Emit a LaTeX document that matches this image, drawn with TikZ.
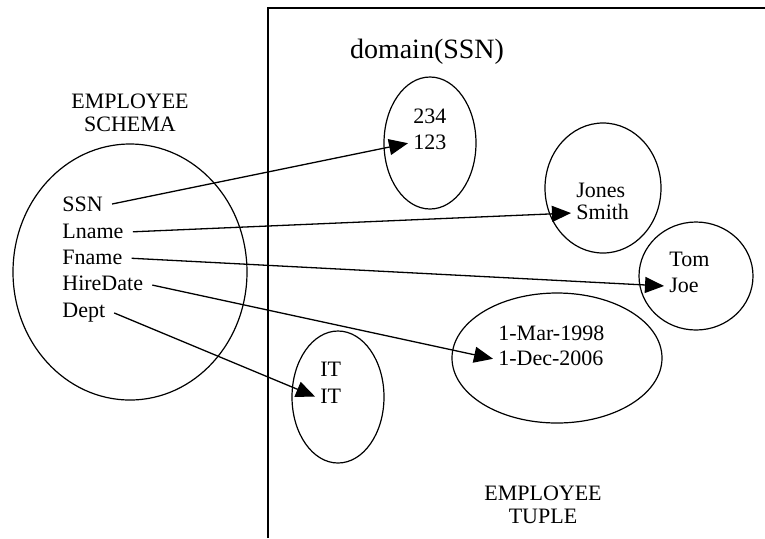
\documentclass[tikz,border=0pt]{standalone}
\usepackage{fontspec}
\setmainfont{Liberation Serif}
\usetikzlibrary{arrows.meta}

\begin{document}
\begin{tikzpicture}[x=0.5pt,y=0.5pt,every node/.style={font=\fontsize{11}{11.5}\selectfont},
  attr/.style={anchor=west,inner sep=2pt,text height=7pt,text depth=0.5pt},
  maps/.style={-{Triangle[length=9.5pt,width=8pt]},line width=0.65pt,shorten <=2.5pt,shorten >=0.5pt},
  set/.style={line width=0.6pt}]
\useasboundingbox (0,0) rectangle (765,-538);
\draw[line width=0.9pt] (268,-538) -- (268,-8) -- (765,-8);
\node[align=center] (schema) at (130,-113) {EMPLOYEE\\SCHEMA};
\node[font=\fontsize{14}{16}\selectfont] (domssn) at (427,-52) {domain(SSN)};
\node[align=center] (tuple) at (543,-505) {EMPLOYEE\\TUPLE};
\draw[set] (130,-272) ellipse [x radius=58.5pt,y radius=64pt];
\draw[set] (430,-143) ellipse [x radius=23pt,y radius=33pt];
\draw[set] (603,-188) ellipse [x radius=29pt,y radius=32.5pt];
\draw[set] (696,-276) ellipse [x radius=28.5pt,y radius=27pt];
\draw[set] (557,-358) ellipse [x radius=52.5pt,y radius=32.5pt];
\draw[set] (338,-397) ellipse [x radius=23pt,y radius=33pt];
\node[attr] (ssn) at (58,-205) {SSN};
\node[attr] (lname) at (58,-232) {Lname};
\node[attr] (fname) at (58,-258) {Fname};
\node[attr] (hire) at (58,-284) {HireDate};
\node[attr] (dept) at (58,-311) {Dept};
\node[attr] (ssnA) at (409,-117) {234};
\node[attr] (ssnB) at (409,-143) {123};
\node[attr] (lnA) at (572,-191) {Jones};
\node[attr] (lnB) at (572,-213) {Smith};
\node[attr] (fnA) at (665,-260) {Tom};
\node[attr] (fnB) at (665,-286) {Joe};
\node[attr] (hdA) at (494,-334) {1-Mar-1998};
\node[attr] (hdB) at (494,-359) {1-Dec-2006};
\node[attr] (dpA) at (316,-370) {IT};
\node[attr] (dpB) at (316,-397) {IT};
\draw[maps] (ssn.east) -- (ssnB.west);
\draw[maps] (lname.east) -- (lnB.west);
\draw[maps] (fname.east) -- (fnB.west);
\draw[maps] (hire.east) -- (hdB.west);
\draw[maps] (dept.east) -- (dpB.west);
\end{tikzpicture}
\end{document}
